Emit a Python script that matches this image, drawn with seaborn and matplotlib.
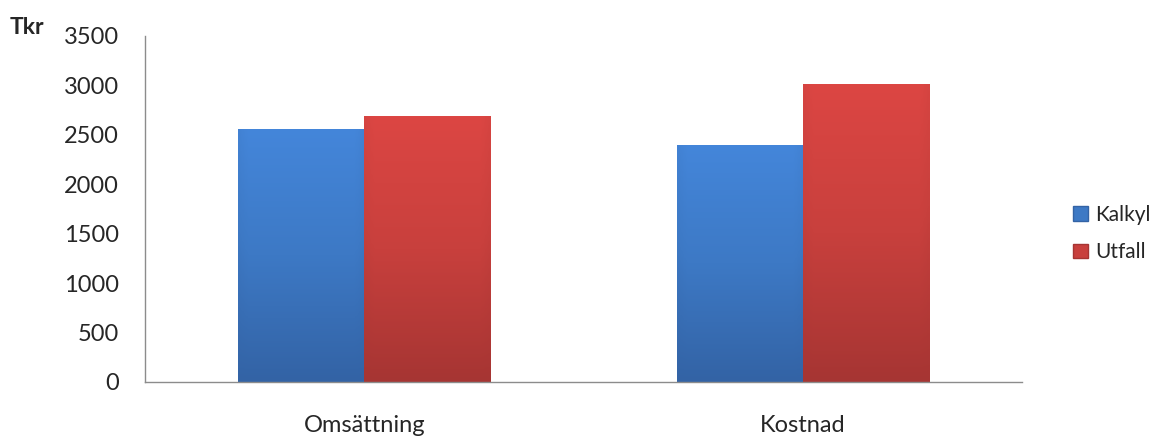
import numpy as np
import pandas as pd
import matplotlib
matplotlib.use("Agg")
import matplotlib.pyplot as plt
import seaborn as sns
from matplotlib.colors import LinearSegmentedColormap
from matplotlib.patches import Patch

categories = ["Omsättning", "Kostnad"]
series_names = ["Kalkyl", "Utfall"]
kalkyl = [2560, 2400]
utfall = [2690, 3010]
yticks = [0, 500, 1000, 1500, 2000, 2500, 3000, 3500]

df = pd.DataFrame({
    "Kategori": categories * 2,
    "Serie": [series_names[0]] * 2 + [series_names[1]] * 2,
    "Värde": kalkyl + utfall,
})

sns.set_style("white")
plt.rcParams['font.family'] = ['Lato', 'DejaVu Sans']

base = {"Kalkyl": "#3d7ac6", "Utfall": "#c8403d"}
grad = {
    "Kalkyl": ("#4486da", "#3d79c5", "#3363a5"),
    "Utfall": ("#dc4643", "#c8403d", "#a63533"),
}

fig = plt.figure(figsize=(11.59, 4.38), dpi=100)
ax = fig.add_axes([145/1159, 1 - 382/438, (1022-145)/1159, (382-36)/438])

sns.barplot(data=df, x="Kategori", y="Värde", hue="Serie", order=categories,
            hue_order=series_names, palette=base, width=0.575, ax=ax,
            legend=False, saturation=1, linewidth=0)

# gradient fill clipped to each bar
for container, name in zip(ax.containers, series_names):
    top, mid, bot = grad[name]
    cmap = LinearSegmentedColormap.from_list(name, [bot, mid, top])
    for patch in container:
        x0, y0 = patch.get_x(), patch.get_y()
        w, h = patch.get_width(), patch.get_height()
        g = np.linspace(0, 1, 200)[:, None] * np.ones((1, 40))
        xs = np.linspace(0, 1, 40)[None, :]
        edge = np.clip(np.minimum(xs, 1 - xs) * 14, 0, 1)
        vals = g * (0.85 + 0.15 * edge)
        im = ax.imshow(vals, cmap=cmap, origin="lower", aspect="auto",
                       extent=[x0, x0 + w, y0, y0 + h], vmin=0, vmax=1, zorder=2)
        im.set_clip_path(patch)
        patch.set_edgecolor("none")

ax.set_xlim(-0.5, 1.5)
ax.set_ylim(0, 3500)
ax.set_yticks(yticks)
ax.set_yticklabels([str(v) for v in yticks], fontsize=17)
ax.tick_params(axis="x", labelsize=17, pad=24, length=0)
ax.tick_params(axis="y", length=0, pad=19)
ax.set_xlabel("")
ax.set_ylabel("")
for s in ["top", "right"]:
    ax.spines[s].set_visible(False)
for s in ["left", "bottom"]:
    ax.spines[s].set_color("#8c8c8c")
    ax.spines[s].set_linewidth(1)

fig.text(10/1159, 1 - 27/438, "Tkr", fontsize=16.5, fontweight="bold", va="center", ha="left")

handles = [Patch(facecolor=grad[n][1], edgecolor=grad[n][2], linewidth=1) for n in series_names]
leg = fig.legend(handles, series_names, loc="center left",
                 bbox_to_anchor=(1063/1159, 1 - 233.5/438), frameon=False,
                 fontsize=15, handlelength=0.7, handleheight=0.7,
                 handletextpad=0.35, labelspacing=0.85, borderpad=0)

fig.savefig("out.png", dpi=100)
